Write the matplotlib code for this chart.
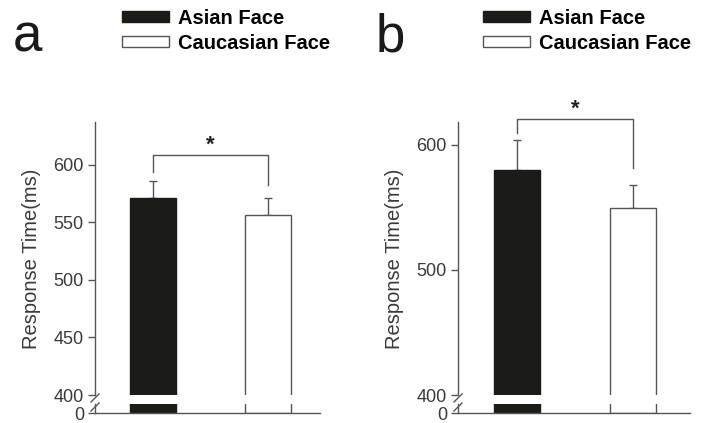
import matplotlib.pyplot as plt
from matplotlib.patches import Patch

plt.rcParams['font.family'] = ['Liberation Sans', 'DejaVu Sans']

groups = ["Asian Face", "Caucasian Face"]
colors = ["#1b1b17", "white"]

# panel a
means_a = [571, 556]
errs_a = [15, 15]
yticks_a = [400, 450, 500, 550, 600]
# panel b
means_b = [580, 549]
errs_b = [24, 19]
yticks_b = [400, 500, 600]

W, H = 705, 423
GRAY = "#555555"
TXT = "#3a3a3a"


def fig_rect(x0, x1, ytop, ybot):
    return [x0 / W, 1 - ybot / H, (x1 - x0) / W, (ybot - ytop) / H]


def draw_panel(fig, x0, x1, ytop, ymax, means, errs, yticks, xlim, bracket, star_y, letter, lx, legx):
    ax = fig.add_axes(fig_rect(x0, x1, ytop, 395))
    axb = fig.add_axes(fig_rect(x0, x1, 404, 413))
    xs = [0, 1]
    for a in (ax, axb):
        a.bar(xs, means, width=0.4, color=colors, edgecolor=["#1b1b17", GRAY],
              linewidth=1.0, zorder=2)
        a.set_xlim(*xlim)
        for s in ("top", "right"):
            a.spines[s].set_visible(False)
        for s in ("left", "bottom"):
            a.spines[s].set_color(GRAY)
            a.spines[s].set_linewidth(1.0)
        a.tick_params(axis="y", direction="out", length=5, width=1, colors=GRAY,
                      labelcolor=TXT, labelsize=13, pad=3)
        a.set_xticks([])
    ax.errorbar(xs, means, yerr=[[0, 0], errs], fmt="none", ecolor=GRAY,
                elinewidth=1, capsize=3, capthick=1, zorder=1)
    ax.set_ylim(400, ymax)
    ax.set_yticks(yticks)
    ax.spines["bottom"].set_visible(False)
    axb.set_ylim(0, 10)
    axb.set_yticks([0])
    ax.set_ylabel("Response Time(ms)", fontsize=14.5, color=TXT, labelpad=9)

    # break marks on the y axis
    d = 4
    for yb in (398, 407):
        fig.add_artist(plt.Line2D([(x0 - d) / W, (x0 + d) / W],
                                  [1 - (yb + d) / H, 1 - (yb - d) / H],
                                  color=GRAY, lw=1))

    # significance bracket
    (l0, r0, top) = bracket
    ax.plot([0, 0, 1, 1], [l0, top, top, r0], color=GRAY, lw=1, clip_on=False)
    ax.text(0.5, star_y, "*", ha="center", va="center", fontsize=16,
            fontweight="bold", color="#222222")

    fig.text(lx / W, 1 - 38 / H, letter, fontsize=38, ha="left", va="center", color="#1a1a1a")
    handles = [Patch(facecolor=colors[0], edgecolor="#1b1b17"),
               Patch(facecolor=colors[1], edgecolor=GRAY)]
    fig.legend(handles, groups, loc="upper left", bbox_to_anchor=(legx / W, 1 - 9 / H),
               frameon=False, prop={"weight": "bold", "size": 14.5},
               handlelength=2.35, handleheight=0.45, handletextpad=0.45,
               labelspacing=0.3, borderaxespad=0, borderpad=0)


fig = plt.figure(figsize=(7.05, 4.23), dpi=100)
draw_panel(fig, 95, 320, 122, 637, means_a, errs_a, yticks_a, (-0.504, 1.452),
           (594, 582, 608), 617, "a", 13, 122)
draw_panel(fig, 458, 690, 122, 618, means_b, errs_b, yticks_b, (-0.509, 1.49),
           (609, 581, 620), 628, "b", 376, 483)
fig.savefig("out.png", dpi=100)
